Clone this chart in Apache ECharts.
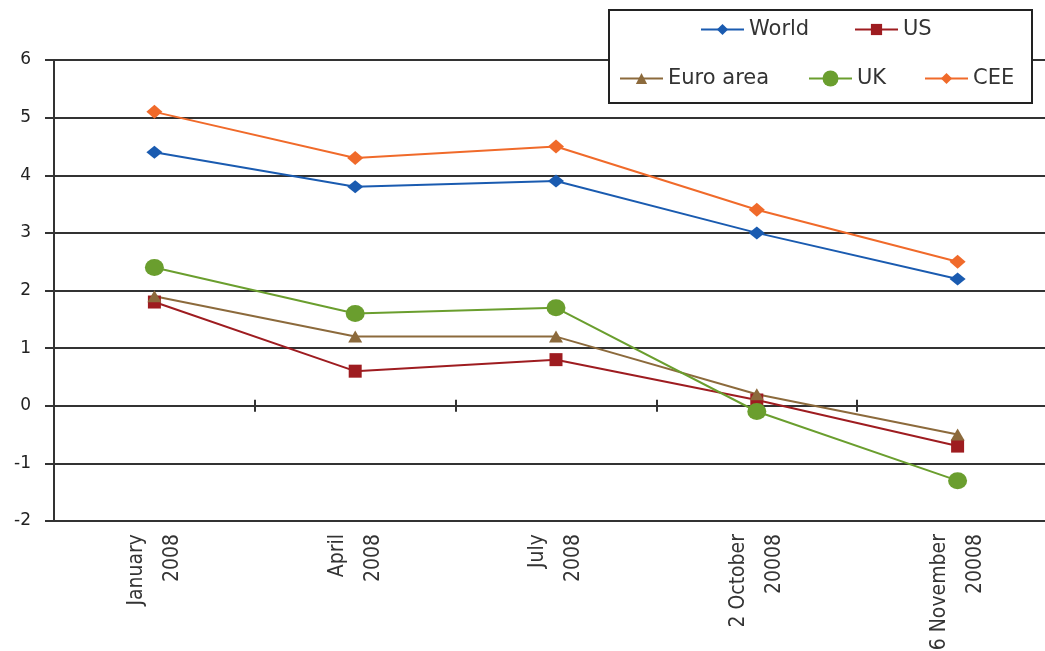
<!DOCTYPE html>
<html>
<head>
<meta charset="utf-8">
<style>
  html, body { margin: 0; padding: 0; background: #ffffff; }
  #chart { width: 1045px; height: 651px; }
</style>
<script src="https://cdn.jsdelivr.net/npm/echarts@6/dist/echarts.min.js"></script>
</head>
<body>
<div id="chart"></div>
<script>
// Survey dates (category axis)
const categories = ['January\n2008', 'April\n2008', 'July\n2008', '2 October\n20008', '6 November\n20008'];

// Forecast values per region
const world    = [4.4, 3.8, 3.9, 3.0, 2.2];
const us       = [1.8, 0.6, 0.8, 0.1, -0.7];
const euroArea = [1.9, 1.2, 1.2, 0.2, -0.5];
const uk       = [2.4, 1.6, 1.7, -0.1, -1.3];
const cee      = [5.1, 4.3, 4.5, 3.4, 2.5];

// Value axis range
const yMin = -2;
const yMax = 6;
const yStep = 1;

const AXIS = '#333333';
const COLORS = {
  world: '#1a5bb0',
  us: '#9e1c20',
  euro: '#8c6a3c',
  uk: '#6a9e2e',
  cee: '#f06a2a'
};

const chart = echarts.init(document.getElementById('chart'));

function lineSeries(name, data, color, symbol, size) {
  return {
    name: name,
    type: 'line',
    data: data,
    xAxisIndex: 0,
    yAxisIndex: 0,
    symbol: symbol,
    symbolSize: size,
    showAllSymbol: true,
    lineStyle: { color: color, width: 2 },
    itemStyle: { color: color },
    emphasis: { disabled: true },
    animation: false,
    z: 3
  };
}

function legendFor(name, left, top, itemHeight) {
  return {
    data: [name],
    left: left,
    top: top,
    padding: 0,
    itemWidth: 43,
    itemHeight: itemHeight,
    itemGap: 0,
    z: 10,
    textStyle: { fontFamily: 'DejaVu Sans', fontSize: 21, color: '#333333' }
  };
}

const xBase = {
  type: 'category',
  data: categories,
  boundaryGap: true,
  axisLabel: { show: false },
  splitLine: { show: false }
};

chart.setOption({
  backgroundColor: '#ffffff',
  animation: false,
  grid: {
    left: 54,
    top: 60,
    width: 1004,
    bottom: 130,
    outerBoundsMode: 'none',
    containLabel: false
  },
  legend: [
    legendFor('World', 700, 19, 14),
    legendFor('US', 854, 19, 14),
    legendFor('Euro area', 619, 68, 14),
    legendFor('UK', 808, 68, 20),
    legendFor('CEE', 924, 68, 14)
  ],
  graphic: [{
    type: 'rect',
    shape: { x: 609, y: 10, width: 423, height: 93 },
    style: { fill: '#ffffff', stroke: '#222222', lineWidth: 2 },
    z: 8,
    silent: true
  }],
  xAxis: [
    Object.assign({}, xBase, {
      position: 'bottom',
      axisLine: { show: false, onZero: false },
      axisTick: { show: false },
      axisLabel: {
        show: true,
        rotate: 90,
        margin: 13,
        fontFamily: 'DejaVu Sans Condensed, sans-serif',
        fontSize: 21,
        lineHeight: 36,
        color: '#333333'
      }
    }),
    Object.assign({}, xBase, {
      axisLine: { show: true, onZero: true, onZeroAxisIndex: 0, lineStyle: { color: AXIS, width: 2 } },
      axisTick: { show: true, inside: false, length: 6, lineStyle: { color: AXIS, width: 2 } }
    }),
    Object.assign({}, xBase, {
      axisLine: { show: false, onZero: true, onZeroAxisIndex: 0 },
      axisTick: { show: true, inside: true, length: 6, lineStyle: { color: AXIS, width: 2 } }
    })
  ],
  yAxis: {
    type: 'value',
    min: yMin,
    max: yMax,
    interval: yStep,
    axisLine: { show: true, lineStyle: { color: AXIS, width: 2 } },
    axisTick: { show: true, length: 9, lineStyle: { color: AXIS, width: 2 } },
    axisLabel: {
      margin: 23,
      fontFamily: 'DejaVu Sans',
      fontSize: 17,
      color: '#222222'
    },
    splitLine: { show: true, lineStyle: { color: AXIS, width: 2 } }
  },
  series: [
    lineSeries('World', world, COLORS.world, 'diamond', [16, 13]),
    lineSeries('US', us, COLORS.us, 'rect', [13, 13]),
    lineSeries('Euro area', euroArea, COLORS.euro, 'triangle', [14, 12]),
    lineSeries('UK', uk, COLORS.uk, 'circle', [19, 17]),
    lineSeries('CEE', cee, COLORS.cee, 'diamond', [16, 14])
  ]
});
</script>
</body>
</html>
